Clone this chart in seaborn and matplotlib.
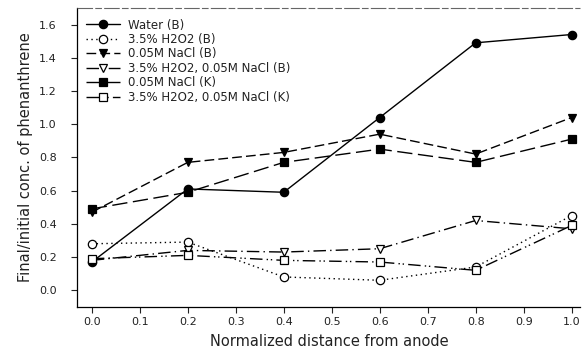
import pandas as pd
import numpy as np
import matplotlib
matplotlib.use("Agg")
import matplotlib.pyplot as plt
import seaborn as sns

distance = [0.0, 0.2, 0.4, 0.6, 0.8, 1.0]
water_b = [0.17, 0.61, 0.59, 1.04, 1.49, 1.54]
h2o2_b = [0.28, 0.29, 0.08, 0.06, 0.14, 0.45]
nacl_b = [0.47, 0.77, 0.83, 0.94, 0.82, 1.04]
h2o2_nacl_b = [0.18, 0.24, 0.23, 0.25, 0.42, 0.37]
nacl_k = [0.49, 0.59, 0.77, 0.85, 0.77, 0.91]
h2o2_nacl_k = [0.19, 0.21, 0.18, 0.17, 0.12, 0.39]

labels = ["Water (B)", "3.5% H2O2 (B)", "0.05M NaCl (B)",
          "3.5% H2O2, 0.05M NaCl (B)", "0.05M NaCl (K)", "3.5% H2O2, 0.05M NaCl (K)"]
series = [water_b, h2o2_b, nacl_b, h2o2_nacl_b, nacl_k, h2o2_nacl_k]

sns.set_style("ticks")
plt.rcParams["font.family"] = ["DejaVu Sans"]

fig, ax = plt.subplots(figsize=(5.82, 3.61), dpi=100)
fig.subplots_adjust(left=0.133, right=0.997, top=0.978, bottom=0.15)

styles = [
    dict(marker="o", mfc="black", ls="-"),
    dict(marker="o", mfc="white", ls=(0, (1, 2.5))),
    dict(marker="v", mfc="black", ls=(0, (7, 3))),
    dict(marker="v", mfc="white", ls=(0, (9, 3, 1, 3))),
    dict(marker="s", mfc="black", ls=(0, (11, 4))),
    dict(marker="s", mfc="white", ls=(0, (9, 3, 1, 2, 1, 3))),
]

for lab, vals, st in zip(labels, series, styles):
    df = pd.DataFrame({"d": distance, "v": vals})
    sns.lineplot(data=df, x="d", y="v", ax=ax, color="black", lw=1.0,
                 linestyle=st["ls"], marker=st["marker"], markersize=6,
                 markerfacecolor=st["mfc"], markeredgecolor="black",
                 markeredgewidth=0.9, label=lab)

ax.set_xlim(-0.03, 1.018)
ax.set_ylim(-0.1, 1.7)
ax.set_xticks(np.arange(0, 1.01, 0.1))
ax.set_xticklabels(["0.0", "0.1", "0.2", "0.3", "0.4", "0.5", "0.6", "0.7", "0.8", "0.9", "1.0"])
ax.set_yticks(np.arange(0, 1.61, 0.2))
ax.set_yticklabels(["0.0", "0.2", "0.4", "0.6", "0.8", "1.0", "1.2", "1.4", "1.6"])
ax.tick_params(labelsize=8, length=4, width=0.8, direction="out", colors="#222222")
ax.tick_params(axis="x", pad=3)
ax.tick_params(axis="y", pad=11)
ax.set_xlabel("Normalized distance from anode", fontsize=10.5, labelpad=5, color="#222222")
ax.set_ylabel("Final/initial conc. of phenanthrene", fontsize=10.5, labelpad=4, color="#222222")

# frame: solid left and bottom, faint broken line on top, nothing on the right
ax.set_frame_on(False)
ax.plot([0, 0], [0, 1], transform=ax.transAxes, color="black", lw=0.9,
        clip_on=False, solid_capstyle="projecting")
ax.plot([0, 1], [0, 0], transform=ax.transAxes, color="black", lw=0.9,
        clip_on=False, solid_capstyle="projecting")
ax.plot([0, 1], [1, 1], transform=ax.transAxes, color="0.4", lw=0.8,
        clip_on=False, ls=(0, (14, 2, 6, 2)))

leg = ax.legend(loc="upper left", frameon=False, fontsize=8.5, handlelength=2.9,
                labelspacing=0.12, borderaxespad=0.5, handletextpad=0.7,
                bbox_to_anchor=(-0.005, 1.0))
for t in leg.get_texts():
    t.set_color("#222222")

fig.savefig("out.png", dpi=100)
